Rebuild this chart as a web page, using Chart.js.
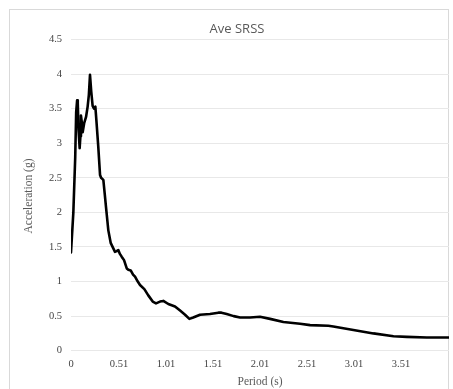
<!DOCTYPE html>
<html>
<head>
<meta charset="utf-8">
<script src="https://cdn.jsdelivr.net/npm/chart.js@4/dist/chart.umd.min.js"></script>
<style>
  html, body { margin:0; padding:0; background:#fff; overflow:hidden; }
  #wrap { position:relative; width:453px; height:389px; }
  #frame { position:absolute; left:9px; top:9px; width:440px; height:400px; border:1px solid #d9d9d9; box-sizing:border-box; }
  #c { position:absolute; left:0; top:0; }
</style>
</head>
<body>
<div id="wrap">
  <div id="frame"></div>
  <canvas id="c" width="453" height="389"></canvas>
</div>
<script>
const chartTitle = "Ave SRSS";
const xAxisTitle = "Period (s)";
const yAxisTitle = "Acceleration (g)";

const periods = [0, 0.025, 0.045, 0.055, 0.065, 0.072, 0.08, 0.092, 0.1, 0.106, 0.115, 0.124, 0.14, 0.16, 0.177, 0.19, 0.202, 0.215, 0.23, 0.245, 0.259, 0.27, 0.29, 0.309, 0.32, 0.344, 0.36, 0.372, 0.397, 0.422, 0.45, 0.468, 0.486, 0.503, 0.52, 0.539, 0.564, 0.593, 0.61, 0.635, 0.66, 0.681, 0.71, 0.734, 0.78, 0.822, 0.869, 0.904, 0.947, 0.982, 1.035, 1.106, 1.16, 1.213, 1.259, 1.30, 1.372, 1.478, 1.567, 1.60, 1.656, 1.73, 1.798, 1.904, 2.01, 2.117, 2.259, 2.436, 2.543, 2.737, 2.79, 3.003, 3.216, 3.43, 3.571, 3.784, 4.02];
const accel = [1.42, 2.0, 2.8, 3.45, 3.62, 3.58, 3.2, 2.93, 3.1, 3.4, 3.3, 3.16, 3.29, 3.38, 3.53, 3.7, 3.99, 3.75, 3.54, 3.5, 3.53, 3.33, 2.95, 2.54, 2.5, 2.47, 2.25, 2.08, 1.74, 1.56, 1.48, 1.43, 1.44, 1.455, 1.40, 1.36, 1.31, 1.19, 1.17, 1.16, 1.1, 1.07, 1.0, 0.95, 0.89, 0.80, 0.71, 0.685, 0.71, 0.72, 0.675, 0.64, 0.58, 0.52, 0.46, 0.48, 0.52, 0.53, 0.55, 0.55, 0.53, 0.5, 0.48, 0.48, 0.49, 0.46, 0.415, 0.39, 0.37, 0.36, 0.35, 0.30, 0.25, 0.21, 0.20, 0.19, 0.19];

const xTickValues = [0, 0.51, 1.01, 1.51, 2.01, 2.51, 3.01, 3.51];
const xTickLabels = ["0", "0.51", "1.01", "1.51", "2.01", "2.51", "3.01", "3.51"];
const yTickLabels = ["0", "0.5", "1", "1.5", "2", "2.5", "3", "3.5", "4", "4.5"];

const points = periods.map((p, i) => ({ x: p, y: accel[i] }));
const tickFont = { family: "'Liberation Serif', 'DejaVu Serif', serif", size: 10.5 };
const tickColor = "#444444";

const textPlugin = {
  id: 'texts',
  afterDraw(chart) {
    const ctx = chart.ctx;
    ctx.save();
    ctx.fillStyle = "#595959";
    ctx.textAlign = "center";
    ctx.textBaseline = "middle";
    ctx.font = "13px 'Open Sans', 'Liberation Sans', sans-serif";
    ctx.fillText(chartTitle, 237, 29);
    ctx.font = "11.5px 'Liberation Serif', serif";
    ctx.fillText(xAxisTitle, 260, 382);
    ctx.translate(29, 196);
    ctx.rotate(-Math.PI / 2);
    ctx.fillText(yAxisTitle, 0, 0);
    ctx.restore();
  }
};

new Chart(document.getElementById('c'), {
  type: 'scatter',
  data: {
    datasets: [{
      data: points,
      showLine: true,
      borderColor: '#000000',
      borderWidth: 2.6,
      pointRadius: 0,
      tension: 0,
      borderJoinStyle: 'round',
      borderCapStyle: 'round'
    }]
  },
  options: {
    responsive: false,
    animation: false,
    layout: { padding: { top: 39.5, left: 0, right: 4, bottom: 0 } },
    plugins: { legend: { display: false }, tooltip: { enabled: false }, title: { display: false } },
    scales: {
      x: {
        type: 'linear', min: 0, max: 4.02,
        afterBuildTicks: s => { s.ticks = xTickValues.map(v => ({ value: v })); },
        afterFit: s => { s.height = 38.3; },
        ticks: {
          autoSkip: false, maxRotation: 0, padding: 7, font: tickFont, color: tickColor,
          callback: (v) => { const i = xTickValues.indexOf(v); return i >= 0 ? xTickLabels[i] : ''; }
        },
        grid: { display: false, drawTicks: false },
        border: { display: false }
      },
      y: {
        min: 0, max: 4.5,
        afterFit: s => { s.width = 71; },
        ticks: {
          stepSize: 0.5, padding: 9, font: tickFont, color: tickColor,
          callback: (v, i) => yTickLabels[i]
        },
        grid: { color: '#e8e8e8', drawTicks: false, lineWidth: 1 },
        border: { display: false }
      }
    }
  },
  plugins: [textPlugin]
});
</script>
</body>
</html>
